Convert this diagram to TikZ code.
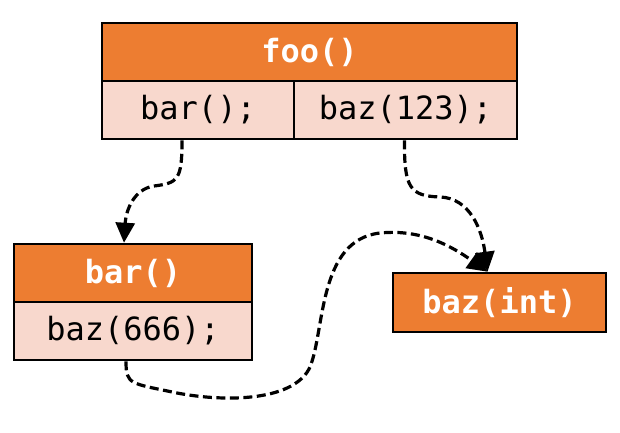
\documentclass[tikz,border=0pt]{standalone}
\usepackage{fontspec}
\setmonofont{DejaVu Sans Mono}
\usetikzlibrary{arrows.meta}
\definecolor{hdrorange}{HTML}{ED7D31}
\definecolor{rowpink}{HTML}{F8D8CD}
\tikzset{
  box/.style={draw=black, line width=2.6pt, inner sep=0pt, font=\ttfamily\fontsize{32}{34}\selectfont},
  hdr/.style={box, fill=hdrorange, text=white, font=\ttfamily\bfseries\fontsize{32}{34}\selectfont},
  row/.style={box, fill=rowpink, text=black},
  call/.style={draw=black, line width=3.2pt, dash pattern=on 9pt off 4.5pt,
    -{Triangle[length=20pt,width=19pt]}},
}
\begin{document}
\begin{tikzpicture}[x=1pt,y=-1pt]
\useasboundingbox (0,0) rectangle (620,432);
% foo()
\node[hdr, minimum width=415pt, minimum height=58pt] (foo) at (309.5,52) {foo()};
\node[row, minimum width=192pt, minimum height=58pt] (foobar) at (198,110) {bar();};
\node[row, minimum width=223pt, minimum height=58pt] (foobaz) at (405.5,110) {baz(123);};
% bar()
\node[hdr, minimum width=238pt, minimum height=58pt] (bar) at (133,273) {bar()};
\node[row, minimum width=238pt, minimum height=58pt] (barbaz) at (133,331) {baz(666);};
% baz(int)
\node[hdr, minimum width=213pt, minimum height=59pt] (baz) at (499.5,302.5) {baz(int)};
% connectors
\coordinate (s1) at ([xshift=-16pt]foobar.south);
\coordinate (e1) at ([xshift=-9pt]bar.north);
\coordinate (s2) at ([xshift=-1pt]foobaz.south);
\coordinate (e2) at ([xshift=-12pt]baz.north);
\coordinate (s3) at ([xshift=-7pt]barbaz.south);
\draw[call] (s1) .. controls (182,180) and (178,183) .. (154,186)
                 .. controls (134,189) and (126,210) .. (e1);
\draw[call] (s2) .. controls (404,188) and (410,196) .. (440,197)
                 .. controls (470,198) and (482,230) .. (e2);
\draw[call] (s3) .. controls (126,385) and (130,383) .. (177,393)
                 .. controls (230,403) and (295,400) .. (310,367)
                 .. controls (325,330) and (318,240) .. (380,233)
                 .. controls (420,229) and (450,245) .. (e2);
\end{tikzpicture}
\end{document}
